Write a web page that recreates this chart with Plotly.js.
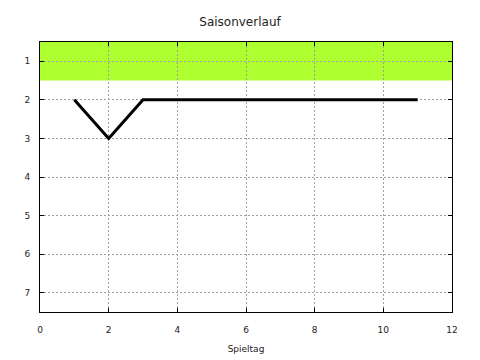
<!DOCTYPE html>
<html><head><meta charset="utf-8">
<script src="https://cdn.plot.ly/plotly-3.0.1.min.js"></script>
<style>html,body{margin:0;padding:0;background:#fff}#c{width:480px;height:360px}</style>
</head><body><div id="c"></div>
<script>
const spieltag = [1,2,3,4,5,6,7,8,9,10,11];
const platz = [2,3,2,2,2,2,2,2,2,2,2];
const xTicks = [0,2,4,6,8,10,12];
const yTicks = [1,2,3,4,5,6,7];
const zoneLow = 0.5, zoneHigh = 1.5;

const trace = {x: spieltag, y: platz, mode:'lines', type:'scatter',
  line:{color:'#000', width:3}, hoverinfo:'skip', showlegend:false};

const axisCommon = {showline:true, linecolor:'#000', linewidth:1, mirror:'allticks',
  ticks:'inside', ticklen:4, tickcolor:'#000', showgrid:true, gridcolor:'#a0a0a0',
  griddash:'2px,2px', gridwidth:1, zeroline:false,
  tickfont:{family:'DejaVu Sans, sans-serif', size:9, color:'#222'}};

const layout = {
  width:480, height:360, paper_bgcolor:'#fff', plot_bgcolor:'#fff',
  margin:{l:40, r:28, t:42, b:48},
  title:{text:'Saisonverlauf', x:0.5, xanchor:'center', y:0.94, yanchor:'middle',
    font:{family:'DejaVu Sans, sans-serif', size:12, color:'#222'}},
  xaxis:Object.assign({}, axisCommon, {range:[0,12], tickvals:xTicks, ticktext:xTicks.map(String),
    ticklabelstandoff:9,
    title:{text:'Spieltag', standoff:11, font:{family:'DejaVu Sans, sans-serif', size:9, color:'#222'}}}),
  yaxis:Object.assign({}, axisCommon, {range:[7.5,0.5], tickvals:yTicks, ticktext:yTicks.map(String),
    ticklabelstandoff:7}),
  shapes:[{type:'rect', xref:'paper', yref:'y', x0:0, x1:1, y0:zoneLow, y1:zoneHigh,
    fillcolor:'#adff2f', line:{width:0}, layer:'below'}]
};
Plotly.newPlot('c',[trace],layout,{displayModeBar:false, staticPlot:true});
</script></body></html>
